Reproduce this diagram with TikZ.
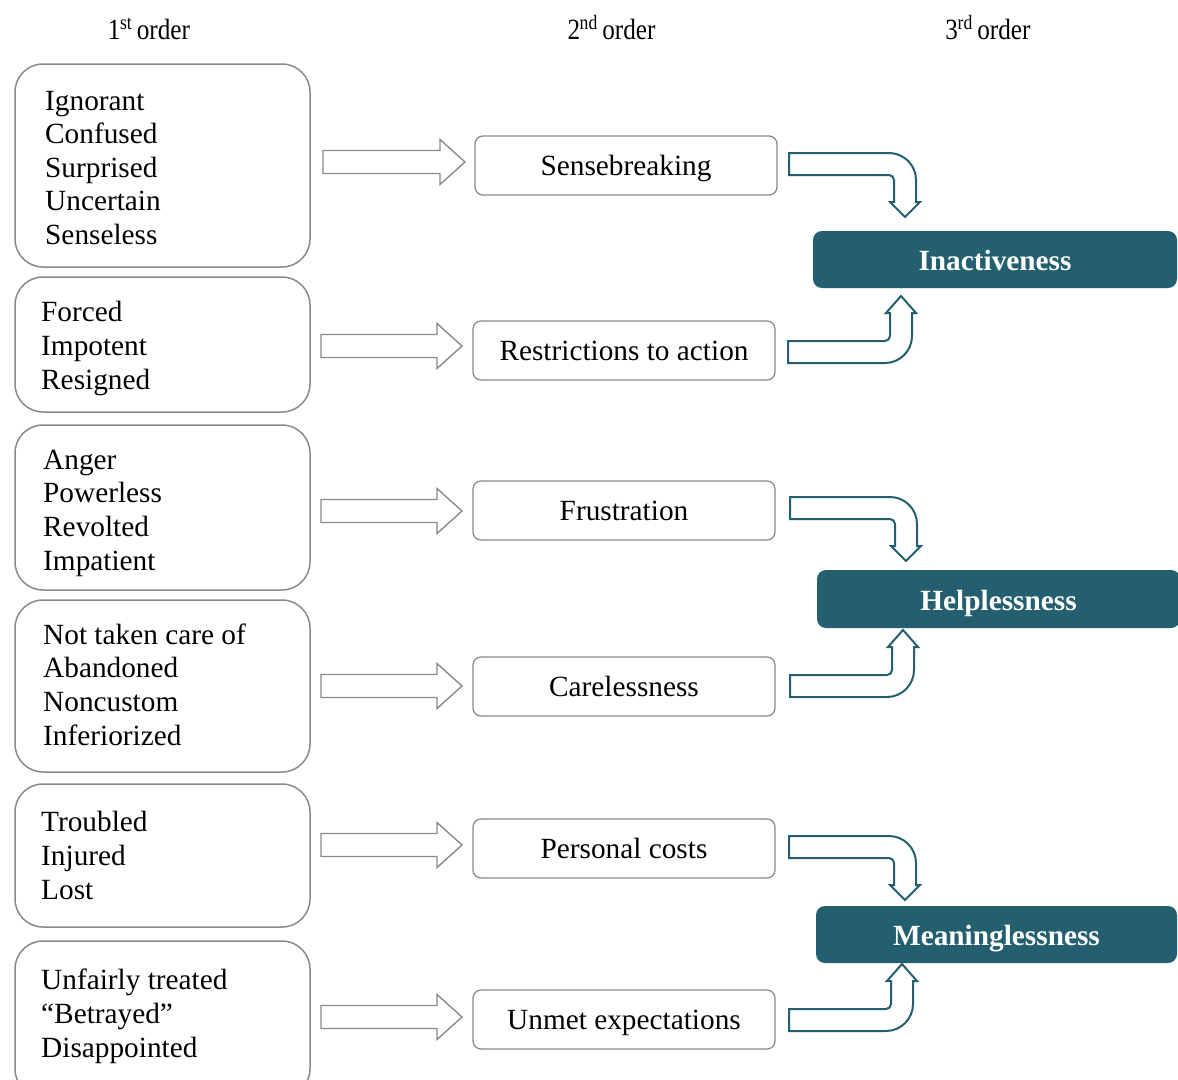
\documentclass[tikz,border=0pt]{standalone}
\usepackage{fontspec}
\setmainfont{Liberation Serif}
\usepackage{graphicx}
\definecolor{tealbox}{RGB}{36,95,112}
\definecolor{grayline}{RGB}{138,138,138}
\newcommand\rightblock[4]{% name, start x, tip x, center y
  \draw[grayarrow] (#2,{#4-11.5}) -- ({#3-25},{#4-11.5}) -- ({#3-25},{#4-22.5}) -- (#3,#4)
    -- ({#3-25},{#4+22.5}) -- ({#3-25},{#4+11.5}) -- (#2,{#4+11.5}) -- cycle;}
\newcommand\downbent[2]{% x0, y0 (top-left of shaft)
  \draw[tealarrow] (#1,#2) -- ({#1+100},#2)
    .. controls ({#1+114.9},#2) and ({#1+127},{#2+12.1}) .. ({#1+127},{#2+27})
    -- ({#1+127},{#2+49}) -- ({#1+131},{#2+49}) -- ({#1+116},{#2+64}) -- ({#1+101},{#2+49})
    -- ({#1+105},{#2+49}) -- ({#1+105},{#2+27})
    .. controls ({#1+105},{#2+24.24}) and ({#1+102.76},{#2+22}) .. ({#1+100},{#2+22})
    -- (#1,{#2+22}) -- cycle;}
\newcommand\upbent[2]{% x0, y1 (bottom-left of shaft)
  \draw[tealarrow] (#1,#2) -- ({#1+97},#2)
    .. controls ({#1+111.9},#2) and ({#1+124},{#2-12.1}) .. ({#1+124},{#2-27})
    -- ({#1+124},{#2-50}) -- ({#1+128},{#2-50}) -- ({#1+113},{#2-67}) -- ({#1+98},{#2-50})
    -- ({#1+102},{#2-50}) -- ({#1+102},{#2-27})
    .. controls ({#1+102},{#2-24.24}) and ({#1+99.76},{#2-22}) .. ({#1+97},{#2-22})
    -- (#1,{#2-22}) -- cycle;}
\newcommand\ordlabel[2]{\scalebox{0.86}[1]{#1\textsuperscript{\kern-0.5pt#2}\kern-2pt\ order}}
\begin{document}
\begin{tikzpicture}[x=1pt,y=-1pt,
  every node/.style={font=\fontsize{29.3}{34}\selectfont},
  lbox/.style={draw=grayline, line width=1.5pt, rounded corners=28pt, minimum width=295pt, inner sep=0pt},
  mbox/.style={draw=grayline, line width=1.3pt, rounded corners=8pt, minimum width=302pt, minimum height=59pt, text height=19pt, text depth=0pt, inner sep=0pt},
  tbox/.style={fill=tealbox, rounded corners=9pt, text=white, font=\fontsize{29.3}{34}\selectfont\bfseries, text height=22pt, text depth=0pt, inner sep=0pt},
  ltxt/.style={anchor=base west, inner sep=0pt},
  htxt/.style={anchor=base, inner sep=0pt},
  grayarrow/.style={draw=grayline, line width=1.4pt, fill=white, line join=miter},
  tealarrow/.style={draw=tealbox, line width=2pt, fill=white, line join=miter}
]
\useasboundingbox (0,0) rectangle (1178,1079);
\clip (0,0) rectangle (1178,1079);

% headers
\node[htxt] (h1) at (149,39) {\ordlabel{1}{st}};
\node[htxt] (h2) at (611.5,39) {\ordlabel{2}{nd}};
\node[htxt] (h3) at (988,39) {\ordlabel{3}{rd}};

% left boxes
\node[lbox, minimum height=203pt] (b1) at (162.5,165.5) {};
\node[lbox, minimum height=135pt] (b2) at (162.5,344.5) {};
\node[lbox, minimum height=165pt] (b3) at (162.5,507.5) {};
\node[lbox, minimum height=172pt] (b4) at (162.5,686) {};
\node[lbox, minimum height=143pt] (b5) at (162.5,855.5) {};
\node[lbox, minimum height=156pt] (b6) at (162.5,1019) {};

\foreach \t [count=\i from 0] in {Ignorant,Confused,Surprised,Uncertain,Senseless}
  \node[ltxt] (a\i) at (45,{110+33.6*\i}) {\t};
\foreach \t [count=\i from 0] in {Forced,Impotent,Resigned}
  \node[ltxt] (c\i) at (41,{321+34*\i}) {\t};
\foreach \t [count=\i from 0] in {Anger,Powerless,Revolted,Impatient}
  \node[ltxt] (d\i) at (43,{469+33.7*\i}) {\t};
\foreach \t [count=\i from 0] in {Not taken care of,Abandoned,Noncustom,Inferiorized}
  \node[ltxt] (e\i) at (43,{644+33.7*\i}) {\t};
\foreach \t [count=\i from 0] in {Troubled,Injured,Lost}
  \node[ltxt] (f\i) at (41,{831+34*\i}) {\t};
\foreach \t [count=\i from 0] in {Unfairly treated,“Betrayed”,Disappointed}
  \node[ltxt] (g\i) at (41,{989+34*\i}) {\t};

% right block arrows
\rightblock{r1}{323}{465}{162}
\rightblock{r2}{321}{462}{346}
\rightblock{r3}{321}{462}{511}
\rightblock{r4}{321}{462}{686}
\rightblock{r5}{321}{462}{845}
\rightblock{r6}{321}{462}{1017}

% middle boxes
\node[mbox] (m1) at (626,165.5) {Sensebreaking};
\node[mbox] (m2) at (624,350.5) {Restrictions to action};
\node[mbox] (m3) at (624,510.5) {Frustration};
\node[mbox] (m4) at (624,686.5) {Carelessness};
\node[mbox] (m5) at (624,848.5) {Personal costs};
\node[mbox] (m6) at (624,1019.5) {Unmet expectations};

% bent arrows
\downbent{789}{153}
\upbent{788}{363}
\downbent{790}{497}
\upbent{790}{697}
\downbent{789}{836}
\upbent{789}{1031}

% third order boxes
\node[tbox, minimum width=364pt, minimum height=57pt] (t1) at (995,259.5) {Inactiveness};
\node[tbox, minimum width=363pt, minimum height=58pt] (t2) at (998.5,599) {Helplessness};
\node[tbox, minimum width=361pt, minimum height=57pt] (t3) at (996.5,934.5) {Meaninglessness};
\end{tikzpicture}
\end{document}
